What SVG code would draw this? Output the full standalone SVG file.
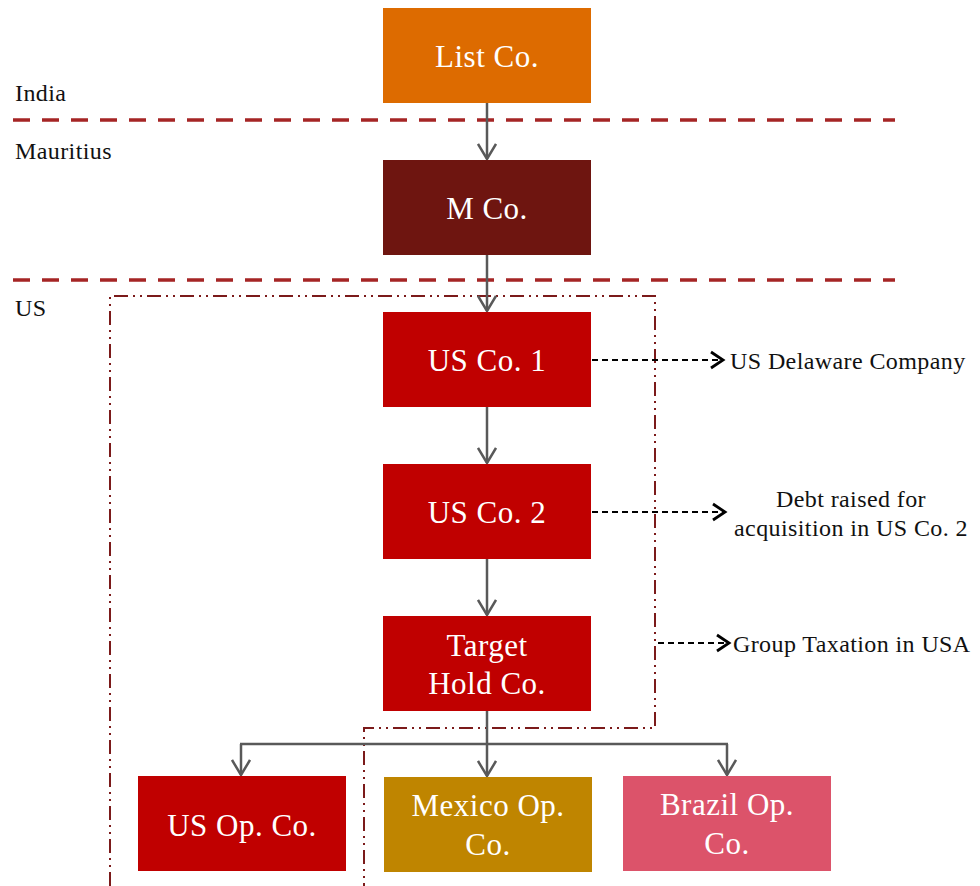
<svg xmlns="http://www.w3.org/2000/svg" width="980" height="886" viewBox="0 0 980 886">
  <defs>
    <marker id="vee-grey" viewBox="0 0 20 20" refX="18" refY="10" markerWidth="20" markerHeight="20" markerUnits="userSpaceOnUse" orient="auto">
      <path d="M3 1 L18 10 L3 19" fill="none" stroke="#595959" stroke-width="2.5"/>
    </marker>
    <marker id="vee-black" viewBox="0 0 20 20" refX="17" refY="10" markerWidth="20" markerHeight="20" markerUnits="userSpaceOnUse" orient="auto">
      <path d="M5 2 L17 10 L5 18" fill="none" stroke="#000" stroke-width="2.8"/>
    </marker>
  </defs>
  <style>
    .box-text { font-family: "Liberation Serif", "Times New Roman", serif; font-size: 31px; letter-spacing: 0.5px; fill: #fff; text-anchor: middle; }
    .label { font-family: "Liberation Serif", "Times New Roman", serif; font-size: 24px; letter-spacing: 0.4px; fill: #111; }
    .border { fill: none; stroke: #A52525; stroke-width: 3.5; stroke-dasharray: 17 12; }
    .frame { fill: none; stroke: #7B1A1A; stroke-width: 2; stroke-dasharray: 14 5 2 5 2 5; }
    .link { fill: none; stroke: #595959; stroke-width: 2.5; }
    .link-arrow { marker-end: url(#vee-grey); }
    .note { fill: none; stroke: #000; stroke-width: 2; stroke-dasharray: 6 4; marker-end: url(#vee-black); }
  </style>
  <rect width="980" height="886" fill="#fff"/>

  <!-- country borders -->
  <g id="borders">
    <line class="border" x1="13" y1="120" x2="895" y2="120"/>
    <line class="border" x1="13" y1="280" x2="895" y2="280"/>
    <text class="label" x="15" y="101">India</text>
    <text class="label" x="15" y="159">Mauritius</text>
    <text class="label" x="15" y="316">US</text>
  </g>

  <!-- US tax group boundary -->
  <path id="tax-group" class="frame" d="M110 886 V296 H655 V728 H364 V886"/>

  <!-- connectors -->
  <g id="connectors">
    <line class="link link-arrow" x1="487" y1="103" x2="487" y2="159"/>
    <line class="link link-arrow" x1="487" y1="255" x2="487" y2="311"/>
    <line class="link link-arrow" x1="487" y1="407" x2="487" y2="463"/>
    <line class="link link-arrow" x1="487" y1="559" x2="487" y2="615"/>
    <line class="link" x1="487" y1="711" x2="487" y2="744"/>
    <line class="link" x1="240" y1="744" x2="728" y2="744"/>
    <line class="link link-arrow" x1="241" y1="744" x2="241" y2="775"/>
    <line class="link link-arrow" x1="487" y1="744" x2="487" y2="776"/>
    <line class="link link-arrow" x1="727" y1="744" x2="727" y2="775"/>
    <line class="note" x1="592" y1="360" x2="723" y2="360"/>
    <line class="note" x1="592" y1="512" x2="725" y2="512"/>
    <line class="note" x1="658" y1="643" x2="729" y2="643"/>
  </g>

  <!-- notes -->
  <g id="note-delaware">
    <text class="label" x="730" y="369">US Delaware Company</text>
  </g>
  <g id="note-debt">
    <text class="label" x="851" y="507" text-anchor="middle">Debt raised for</text>
    <text class="label" x="851" y="536" text-anchor="middle">acquisition in US Co. 2</text>
  </g>
  <g id="note-group">
    <text class="label" x="733" y="652">Group Taxation in USA</text>
  </g>

  <!-- entities -->
  <g id="list-co">
    <rect x="383" y="8" width="208" height="95" fill="#DD6B00"/>
    <text class="box-text" x="487" y="67">List Co.</text>
  </g>
  <g id="m-co">
    <rect x="383" y="160" width="208" height="95" fill="#6E1510"/>
    <text class="box-text" x="487" y="219">M Co.</text>
  </g>
  <g id="us-co-1">
    <rect x="383" y="312" width="208" height="95" fill="#C00000"/>
    <text class="box-text" x="487" y="371">US Co. 1</text>
  </g>
  <g id="us-co-2">
    <rect x="383" y="464" width="208" height="95" fill="#C00000"/>
    <text class="box-text" x="487" y="523">US Co. 2</text>
  </g>
  <g id="target-hold-co">
    <rect x="383" y="616" width="208" height="95" fill="#C00000"/>
    <text class="box-text" x="487" y="656">Target</text>
    <text class="box-text" x="487" y="694">Hold Co.</text>
  </g>
  <g id="us-op-co">
    <rect x="138" y="776" width="208" height="95" fill="#C00000"/>
    <text class="box-text" x="242" y="836">US Op. Co.</text>
  </g>
  <g id="mexico-op-co">
    <rect x="384" y="777" width="208" height="95" fill="#BF8500"/>
    <text class="box-text" x="488" y="816">Mexico Op.</text>
    <text class="box-text" x="488" y="855">Co.</text>
  </g>
  <g id="brazil-op-co">
    <rect x="623" y="776" width="208" height="95" fill="#DC536A"/>
    <text class="box-text" x="727" y="815">Brazil Op.</text>
    <text class="box-text" x="727" y="854">Co.</text>
  </g>
</svg>
